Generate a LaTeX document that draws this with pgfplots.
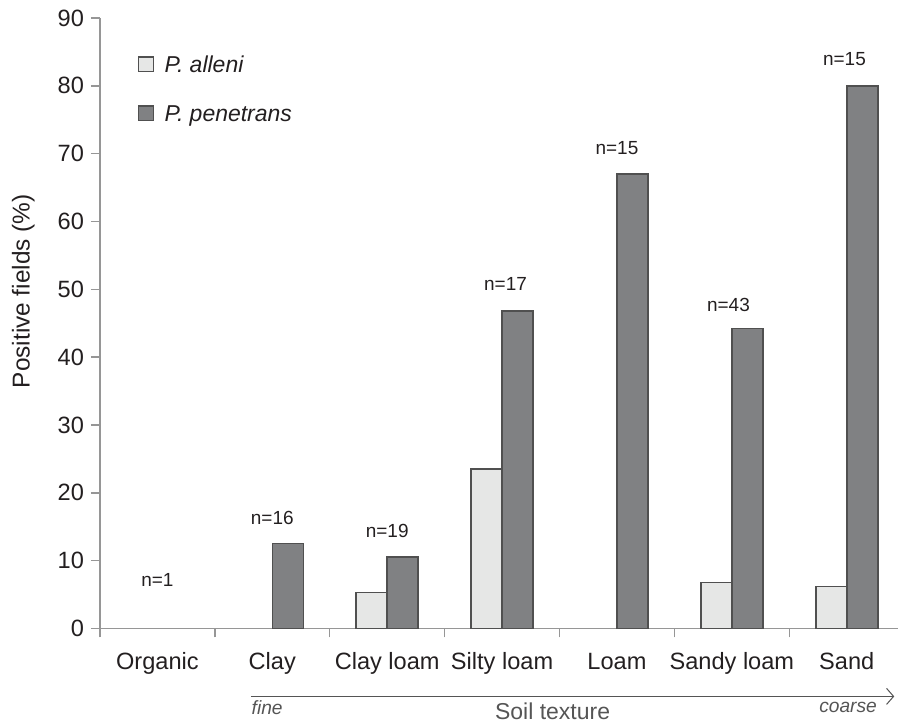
\documentclass[border=0pt]{standalone}
\usepackage{pgfplots}
\pgfplotsset{compat=1.18}
\usepackage{fontspec}
\setmainfont{Liberation Sans}
\usetikzlibrary{arrows.meta}
\definecolor{axgray}{RGB}{150,150,150}
\definecolor{edge}{RGB}{80,80,80}
\definecolor{lightbar}{RGB}{230,231,230}
\definecolor{darkbar}{RGB}{128,129,131}
\definecolor{txt}{RGB}{35,31,32}
\definecolor{soft}{RGB}{85,85,85}
\begin{document}
\begin{tikzpicture}
\begin{axis}[
  scale only axis, width=399.5pt, height=305.5pt,
  xmin=-0.5, xmax=6.448, ymin=0, ymax=90,
  axis x line*=bottom, axis y line*=left,
  axis line style={axgray, line width=0.75pt, -},
  ytick={0,10,...,90},
  xtick={0,...,6},
  xticklabels={Organic,Clay,Clay loam,Silty loam,Loam,Sandy loam,Sand},
  minor xtick={-0.5,0.5,...,5.5},
  tick align=outside,
  major tick length=4.5pt, minor tick length=4.5pt,
  major x tick style={draw=none},
  tick style={axgray, line width=0.75pt},
  /pgf/number format/assume math mode=true,
  ticklabel style={font=\fontsize{11.8}{14}\selectfont, text=txt},
  xticklabel style={anchor=base, yshift=-16pt},
  ylabel={Positive fields (\%)},
  ylabel style={at={(rel axis cs:-0.096,0.5524)}, anchor=center, font=\fontsize{12.2}{14}\selectfont, text=txt},
  ybar=0pt, bar width=15.5pt,
  clip=false,
  legend cell align=left,
  legend style={draw=none, fill=none, inner sep=0pt, outer sep=0pt,
    at={(rel axis cs:0.0476,0.9378)}, anchor=north west,
    row sep=16.2pt,
    font=\fontsize{11.5}{13}\selectfont\itshape, text=txt,
    nodes={inner sep=0pt, text height=8.3pt, text depth=0pt}},
]
\addplot[fill=lightbar, draw=edge, line width=0.75pt,
  legend image code/.code={\draw[fill=lightbar, draw=edge, line width=0.75pt] (0pt,-3.7pt) rectangle (7.4pt,3.7pt); \path (12.6pt,0pt);}]
  coordinates {(2,5.3) (3,23.5) (5,6.8) (6,6.2)};
\addlegendentry{P. alleni}
\addplot[fill=darkbar, draw=edge, line width=0.75pt,
  legend image code/.code={\draw[fill=darkbar, draw=edge, line width=0.75pt] (0pt,-3.7pt) rectangle (7.4pt,3.7pt); \path (12.6pt,0pt);}]
  coordinates {(1,12.5) (2,10.5) (3,46.8) (4,67.0) (5,44.2) (6,80.0)};
\addlegendentry{P. penetrans}

\begin{scope}[every node/.style={font=\fontsize{9.5}{11}\selectfont, text=txt, inner sep=0pt}]
\node at (axis cs:0,7.2) {n=1};
\node at (axis cs:1,16.3) {n=16};
\node at (axis cs:2,14.3) {n=19};
\node at (axis cs:3.03,50.8) {n=17};
\node at (axis cs:4,70.8) {n=15};
\node at (axis cs:4.97,47.7) {n=43};
\node at (axis cs:5.98,84.0) {n=15};
\end{scope}

\draw[soft, line width=0.5pt, -{Straight Barb[length=3.5pt,width=8pt]}] (rel axis cs:0.189,-0.1113) -- (rel axis cs:0.995,-0.1113);
\node[anchor=base west, font=\fontsize{9.6}{11}\selectfont\itshape, text=soft, inner sep=0pt] at (rel axis cs:0.1896,-0.1408) {fine};
\node[anchor=base east, font=\fontsize{9.6}{11}\selectfont\itshape, text=soft, inner sep=0pt] at (rel axis cs:0.9737,-0.1375) {coarse};
\node[anchor=base, font=\fontsize{11.5}{13}\selectfont, text=soft, inner sep=0pt] at (rel axis cs:0.567,-0.1489) {Soil texture};
\path (rel axis cs:-0.1252,-0.1538) rectangle (rel axis cs:1,1.0295);
\end{axis}
\end{tikzpicture}
\end{document}
